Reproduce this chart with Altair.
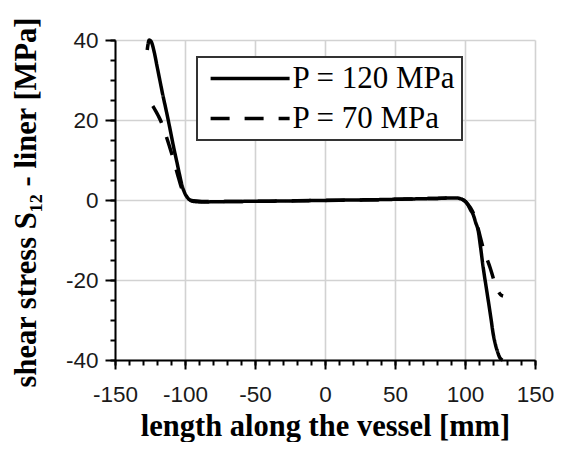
import altair as alt
import pandas as pd

# P = 120 MPa (solid)
x_120 = [-127, -125.5, -124, -122, -120, -118, -116, -114, -112, -110, -108, -106,
         -104, -102, -100, -98, -96, -93, -88, -80, -60, -40, -20, 0, 20, 40, 60,
         80, 90, 94, 97, 100, 102, 104, 106, 107.5, 109.5, 111, 113, 115, 116.6,
         118.5, 120.1, 122, 123.7, 125, 126.9]
y_120 = [37.5, 40, 39.5, 37, 33.5, 30, 26.5, 23.3, 20, 16.5, 13, 9.8,
         6.5, 3.5, 1.6, 0.5, -0.1, -0.4, -0.5, -0.45, -0.35, -0.3, -0.2, -0.1, 0, 0.1, 0.25,
         0.4, 0.5, 0.5, 0.3, -0.3, -1.2, -2.5, -3.8, -5.5, -7.8, -11.5, -16.9, -21.5, -25.1,
         -29.5, -33.4, -36.5, -38.4, -39.5, -40]

# P = 70 MPa (dashed)
x_70 = [-123, -121, -119, -117, -115, -113, -111, -109, -107, -105, -103, -101,
        -99, -97, -94, -88, -80, -60, -40, -20, 0, 20, 40, 60, 80, 90, 94, 97,
        100, 102, 104, 106, 108, 110, 113, 116, 118, 120, 122, 124, 125.5, 127.2]
y_70 = [23.5, 22.3, 21, 19.5, 17.5, 15.5, 13.3, 11, 8.5, 6, 3.6, 1.8,
        0.7, 0.1, -0.2, -0.35, -0.4, -0.35, -0.3, -0.2, -0.1, 0, 0.1, 0.25, 0.4, 0.5, 0.5, 0.3,
        -0.3, -1.0, -2.0, -3.3, -5.3, -8, -12, -15, -17, -19.3, -21.5, -23, -23.7, -24]

series_names = ["P = 120 MPa", "P = 70 MPa"]

x_major = [-150, -100, -50, 0, 50, 100, 150]
x_minor = list(range(-150, 151, 10))
y_major = [-40, -20, 0, 20, 40]
y_minor = list(range(-40, 41, 5))

rows = []
for i, (x, y) in enumerate(zip(x_120, y_120)):
    rows.append({"x": x, "y": y, "series": series_names[0], "order": i})
for i, (x, y) in enumerate(zip(x_70, y_70)):
    rows.append({"x": x, "y": y, "series": series_names[1], "order": i})
df = pd.DataFrame(rows)

xscale = alt.Scale(domain=[-150, 150], nice=False, zero=False)
yscale = alt.Scale(domain=[-40, 40], nice=False, zero=False)

lines = alt.Chart(df).mark_line(
    color="black", strokeWidth=3.5, interpolate="monotone", strokeCap="butt"
).encode(
    x=alt.X("x:Q", scale=xscale, axis=alt.Axis(
        orient="bottom", values=x_major, tickSize=9, tickWidth=2, tickColor="black",
        domainColor="black", domainWidth=2, grid=True, gridColor="#d2d2d2", gridWidth=1.6,
        labelFont="Liberation Sans", labelFontSize=22.5, labelColor="#1a1a1a", labelPadding=14,
        labelFlush=False, labelOverlap=False, labelExpr="'' + datum.value",
        title="length along the vessel [mm]", titleFont="Liberation Serif",
        titleFontSize=30.5, titleFontWeight="bold", titleColor="black",
        titleX=210, titleY=75, titleBaseline="alphabetic", titleAlign="center", titleAnchor="middle")),
    y=alt.Y("y:Q", scale=yscale, axis=alt.Axis(
        orient="left", values=y_major, tickSize=10, tickWidth=2, tickColor="black",
        domainColor="black", domainWidth=2, grid=True, gridColor="#d2d2d2", gridWidth=1.6,
        labelFont="Liberation Sans", labelFontSize=22.5, labelColor="#1a1a1a", labelPadding=7,
        labelFlush=False, labelOverlap=False, labelExpr="'' + datum.value",
        title="shear stress S\u2081\u2082 - liner [MPa]", titleFont="Liberation Serif",
        titleFontSize=30.5, titleFontWeight="bold", titleColor="black",
        titleX=-80, titleY=162, titleAngle=270, titleBaseline="alphabetic",
        titleAlign="center", titleAnchor="middle")),
    strokeDash=alt.StrokeDash("series:N", scale=alt.Scale(
        domain=series_names, range=[[1, 0], [19, 15]]),
        legend=alt.Legend(title=None, orient="none", legendX=82, legendY=17,
                          symbolType="M-4,0H4", symbolSize=390, symbolStrokeWidth=3.5,
                          symbolStrokeColor="black", symbolOffset=31.6,
                          labelFont="Liberation Serif",
                          labelFontSize=31, labelColor="black", labelLimit=400,
                          labelOffset=27, padding=6, rowPadding=8,
                          strokeColor="#333333", fillColor="white")),
    order="order:Q",
    detail="series:N",
)

minor = alt.Chart(df).mark_point(opacity=0).encode(
    x=alt.X("x:Q", scale=xscale, axis=alt.Axis(
        orient="bottom", values=x_minor, tickSize=5, tickWidth=2, tickColor="black",
        domain=False, labels=False, grid=False, title=None)),
    y=alt.Y("y:Q", scale=yscale, axis=alt.Axis(
        orient="left", values=y_minor, tickSize=5, tickWidth=2, tickColor="black",
        domain=False, labels=False, grid=False, title=None)),
)

chart = alt.layer(minor, lines).resolve_axis(
    x="independent", y="independent"
).properties(
    width=420, height=320,
    autosize=alt.AutoSizeParams(type="none"),
    padding={"left": 107, "top": 32, "right": 19, "bottom": 82},
).configure_view(strokeWidth=0).configure_legend(strokeWidth=2)

chart.save("out.html", embed_options={"renderer": "svg", "actions": False})
